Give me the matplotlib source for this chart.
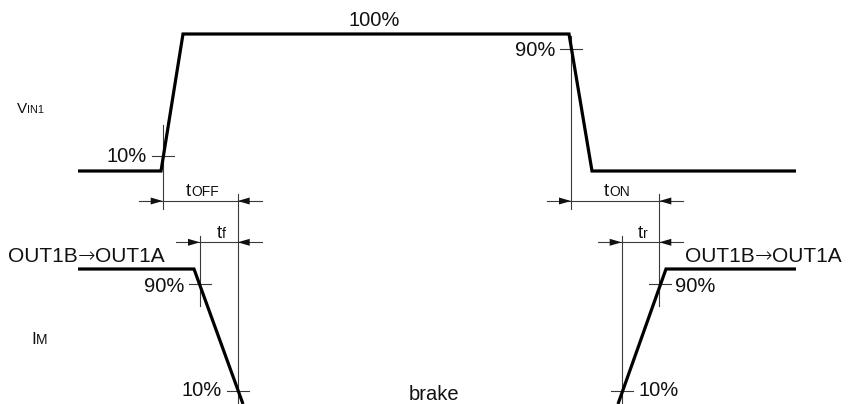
import matplotlib
matplotlib.use('Agg')
import matplotlib.pyplot as plt
from matplotlib.patches import Polygon

plt.rcParams['font.family'] = ['Liberation Sans', 'DejaVu Sans']

# waveform corners, on the 848 x 404 pixel grid of the drawing (y grows downward)
vin_x = [78, 161, 183, 569, 592, 796]
vin_y = [171, 171, 34, 34, 171, 171]
im_left_x = [78, 194, 243]
im_left_y = [269, 269, 404]
im_right_x = [618, 666, 796]
im_right_y = [404, 269, 269]

# 10% / 90% crossing marks
mark_x = [163, 571, 200, 238, 659.5, 622]
mark_y = [155.7, 49.3, 284.3, 390.7, 284.3, 390.7]
mark_text = ['10%', '90%', '90%', '10%', '90%', '10%']
mark_side = ['left', 'left', 'left', 'left', 'right', 'right']
mark_text_y = [156, 50, 287, 391, 287, 391]

# extension lines: x, top, bottom
ext_x = [162.7, 237.7, 200, 571, 659.3, 621.7]
ext_top = [125, 194, 236, 36, 194, 236]
ext_bot = [209, 404, 306, 209, 306, 404]

# timing dimensions
dim_y = [201, 242.3, 201, 242.3]
dim_a = [162.7, 200, 571, 621.7]
dim_b = [237.7, 237.7, 659.3, 659.3]
dim_sub = ['OFF', 'f', 'ON', 'r']

# direction labels
dir_x = [8, 685]
dir_parts = ['OUT1B', '\u2192', 'OUT1A']

thin = '#3a3a3a'
ink = '#111111'
thick_lw = 2.3
thin_lw = 0.8

fig = plt.figure(figsize=(8.48, 4.04), dpi=100)
ax = fig.add_axes([0, 0, 1, 1])
ax.set_xlim(0, 848)
ax.set_ylim(404, 0)
ax.axis('off')
renderer = fig.canvas.get_renderer()


def text_width(t):
    bb = t.get_window_extent(renderer=renderer)
    return bb.width


def sub_label(x, y, main, sub, s_main, s_sub, center=False):
    t1 = ax.text(x, y, main, fontsize=s_main, va='baseline', ha='left', color=ink)
    w1 = text_width(t1)
    t2 = ax.text(x + w1, y, sub, fontsize=s_sub, va='baseline', ha='left', color=ink)
    w2 = text_width(t2)
    if center:
        shift = (w1 + w2) / 2
        t1.set_x(x - shift)
        t2.set_x(x - shift + w1)


def arrow_head(tip, y, direction):
    # direction +1 -> points right, -1 -> points left
    base = tip - direction * 12
    tri = Polygon([(tip, y), (base, y - 3.5), (base, y + 3.5)], closed=True,
                  facecolor=ink, edgecolor='none', zorder=4)
    ax.add_patch(tri)


# waveforms
for xs, ys in [(vin_x, vin_y), (im_left_x, im_left_y), (im_right_x, im_right_y)]:
    ax.plot(xs, ys, color='black', lw=thick_lw, solid_joinstyle='miter',
            solid_capstyle='butt', zorder=3)

# extension lines
for x, y0, y1 in zip(ext_x, ext_top, ext_bot):
    ax.plot([x, x], [y0, y1], color=thin, lw=thin_lw, zorder=2)

# crossing marks and their labels
for x, y, s, side, ty in zip(mark_x, mark_y, mark_text, mark_side, mark_text_y):
    ax.plot([x - 11, x + 11], [y, y], color=thin, lw=thin_lw, zorder=2)
    if side == 'left':
        ax.text(x - 16, ty, s, fontsize=14.5, ha='right', va='center', color=ink)
    else:
        ax.text(x + 16, ty, s, fontsize=14.5, ha='left', va='center', color=ink)

# timing dimensions
for y, a, b, sub in zip(dim_y, dim_a, dim_b, dim_sub):
    ax.plot([a - 24, b + 24], [y, y], color=thin, lw=thin_lw, zorder=2)
    arrow_head(a, y, 1)
    arrow_head(b, y, -1)
    sub_label((a + b) / 2 + 2, y - 4.5, 't', sub, 13.5, 10, center=True)

# signal names
sub_label(17, 112.7, 'V', 'IN1', 11, 7.8)
sub_label(31, 344, 'I', 'M', 12.3, 10)

ax.text(374, 20, '100%', fontsize=14.5, ha='center', va='center', color=ink)
ax.text(434, 400, 'brake', fontsize=14.5, ha='center', va='baseline', color=ink)

# OUT1B -> OUT1A, arrow drawn in DejaVu so it sits at mid height
for x0 in dir_x:
    x = x0
    for part in dir_parts:
        if part == '\u2192':
            t = ax.text(x, 262, part, fontsize=15, ha='left', va='baseline',
                        color=ink, family=['DejaVu Sans'], fontweight='light')
        else:
            t = ax.text(x, 262, part, fontsize=15, ha='left', va='baseline', color=ink)
        x += text_width(t)

fig.savefig('out.png', dpi=100)
